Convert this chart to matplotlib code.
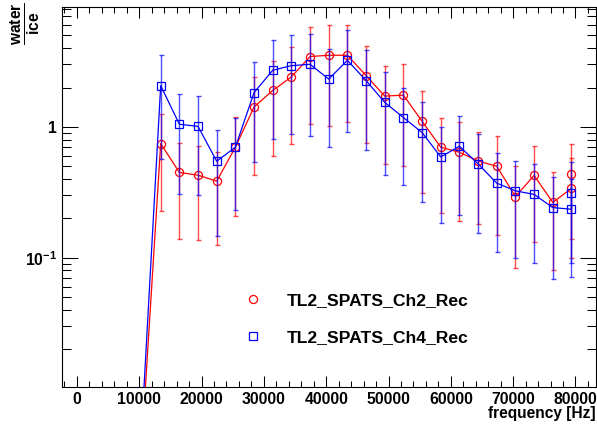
import matplotlib
matplotlib.use("Agg")
import matplotlib.pyplot as plt
from matplotlib.ticker import MultipleLocator, LogLocator, NullFormatter, FixedLocator, StrMethodFormatter

plt.rcParams['font.family'] = ['Liberation Sans', 'DejaVu Sans']
plt.rcParams['font.weight'] = 'bold'
plt.rcParams['mathtext.fontset'] = 'custom'
plt.rcParams['mathtext.rm'] = 'Liberation Sans:bold'
plt.rcParams['mathtext.it'] = 'Liberation Sans:bold'
plt.rcParams['mathtext.bf'] = 'Liberation Sans:bold'

# frequency bins [Hz] (last bin holds two entries)
freq = [10444, 13440, 16436, 19433, 22429, 25426, 28422, 31418, 34415, 37411,
        40408, 43404, 46400, 49397, 52393, 55390, 58386, 61382, 64379, 67375,
        70372, 73368, 76365, 79361, 79361]

# water/ice ratio, channel 2
ch2_val = [0.004, 0.746, 0.449, 0.428, 0.385, 0.70, 1.42, 1.90, 2.41, 3.45,
           3.53, 3.53, 2.47, 1.72, 1.75, 1.105, 0.70, 0.64, 0.55, 0.50,
           0.294, 0.426, 0.265, 0.339, 0.44]
ch2_err = [0.0, 0.52, 0.31, 0.29, 0.26, 0.49, 0.99, 1.30, 1.67, 2.39,
           2.52, 2.44, 1.71, 1.20, 1.25, 0.79, 0.48, 0.45, 0.37, 0.35,
           0.21, 0.294, 0.184, 0.24, 0.30]

# water/ice ratio, channel 4
ch4_val = [0.0055, 2.07, 1.048, 1.01, 0.547, 0.70, 1.83, 2.71, 2.94, 3.01,
           2.32, 3.23, 2.26, 1.54, 1.18, 0.906, 0.59, 0.712, 0.522, 0.372,
           0.325, 0.305, 0.242, 0.235, 0.313]
ch4_err = [0.0, 1.50, 0.74, 0.71, 0.40, 0.47, 1.29, 1.90, 2.06, 2.15,
           1.62, 2.31, 1.59, 1.11, 0.82, 0.64, 0.405, 0.50, 0.367, 0.262,
           0.225, 0.214, 0.173, 0.164, 0.222]

labels = ["TL2_SPATS_Ch2_Rec", "TL2_SPATS_Ch4_Rec"]

fig = plt.figure(figsize=(5.97, 4.24), dpi=100)
ax = fig.add_axes([62/597, 1-387/424, (596-62)/597, (387-7)/424])

series = [(ch2_val, ch2_err, '#ff0000', 'o'), (ch4_val, ch4_err, '#0000ff', 's')]
handles = []
for (val, err, col, mk), lab in zip(series, labels):
    ax.errorbar(freq, val, yerr=err, fmt='none', ecolor=col, elinewidth=1.0,
                capsize=1.8, capthick=1.0, alpha=0.7)
    ax.plot(freq, val, '-', color=col, lw=0.9)
    h, = ax.plot(freq, val, linestyle='none', marker=mk, ms=5.8, mfc='none',
                 mec=col, mew=0.9, label=lab)
    handles.append(h)

ax.set_yscale('log')
ax.set_xlim(-2400, 83300)
ax.set_ylim(0.0103, 8.25)

ax.xaxis.set_major_locator(MultipleLocator(10000))
ax.xaxis.set_minor_locator(MultipleLocator(2000))
ax.xaxis.set_major_formatter(StrMethodFormatter('{x:.0f}'))
ax.yaxis.set_major_locator(FixedLocator([0.1, 1]))
ax.set_yticklabels([r'$10^{-1}$', '1'])
ax.yaxis.set_minor_locator(LogLocator(base=10, subs=range(2, 10)))
ax.yaxis.set_minor_formatter(NullFormatter())

ax.tick_params(axis='both', which='both', direction='in', top=True, right=True,
               width=0.75, labelsize=11.3, pad=3.6)
ax.tick_params(axis='x', which='major', length=8)
ax.tick_params(axis='x', which='minor', length=4)
ax.tick_params(axis='y', which='major', length=11.5)
ax.tick_params(axis='y', which='minor', length=6.3)
for s in ax.spines.values():
    s.set_linewidth(0.8)

fig.text(596/597, 1-418/424, 'frequency [Hz]', ha='right', va='baseline',
         fontsize=11.2, fontweight='bold')
fig.text(25/597, 1-24/424, r'$\frac{\mathrm{water}}{\mathrm{ice}}$', rotation=90,
         ha='center', va='center', fontsize=16)

ax.legend(handles=handles, loc='center left', frameon=False,
          bbox_to_anchor=(244/597, 1-319/424), bbox_transform=fig.transFigure,
          borderpad=0, borderaxespad=0, handlelength=1.0, handletextpad=1.45,
          labelspacing=1.25, prop={'size': 12.6, 'weight': 'bold'})

fig.savefig('out.png', dpi=100)
